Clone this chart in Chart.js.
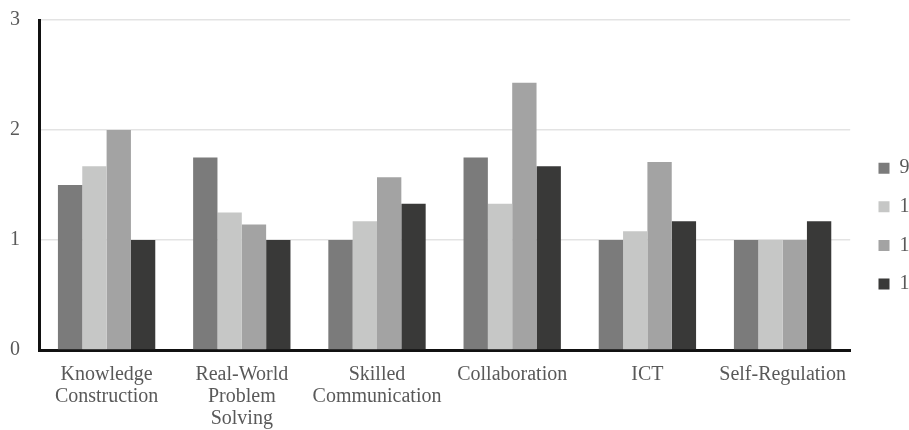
<!DOCTYPE html>
<html>
<head>
<meta charset="utf-8">
<script src="https://cdn.jsdelivr.net/npm/chart.js@4/dist/chart.umd.min.js"></script>
<style>
  html, body { margin: 0; padding: 0; background: #ffffff; }
  #wrap { width: 909px; height: 430px; position: relative; }
</style>
</head>
<body>
<div id="wrap"><canvas id="chart"></canvas></div>
<script>
// Category labels (multi-line where the label wraps)
const categories = [
  ['Knowledge', 'Construction'],
  ['Real-World', 'Problem', 'Solving'],
  ['Skilled', 'Communication'],
  'Collaboration',
  'ICT',
  'Self-Regulation'
];

// Series names shown in the legend
const seriesNames = ['9', '1', '1', '1'];

// Series values, one array per series
const series1 = [1.5, 1.75, 1.0, 1.75, 1.0, 1.0];
const series2 = [1.67, 1.25, 1.17, 1.33, 1.08, 1.0];
const series3 = [2.0, 1.14, 1.57, 2.43, 1.71, 1.0];
const series4 = [1.0, 1.0, 1.33, 1.67, 1.17, 1.17];

// Y axis ticks
const yTicks = [0, 1, 2, 3];

const colors = ['#7b7b7b', '#c6c7c6', '#a3a3a3', '#393938'];
const seriesValues = [series1, series2, series3, series4];

const FONT = '"Liberation Serif", "Times New Roman", serif';
const TEXT = '#595959';

const datasets = seriesValues.map((vals, i) => ({
  label: seriesNames[i],
  data: vals,
  backgroundColor: colors[i],
  borderWidth: 0,
  categoryPercentage: 0.72,
  barPercentage: 1.0
}));

new Chart(document.getElementById('chart'), {
  type: 'bar',
  data: { labels: categories, datasets },
  options: {
    responsive: true,
    maintainAspectRatio: false,
    animation: false,
    layout: { padding: { top: 0, left: -9, right: -10.5, bottom: -14 } },
    plugins: {
      tooltip: { enabled: false },
      legend: {
        position: 'right',
        align: 'center',
        title: { display: true, text: ' ', font: { size: 1 }, padding: { top: 7, bottom: 0 } },
        labels: {
          boxWidth: 11,
          boxHeight: 11,
          padding: 18.6,
          color: TEXT,
          font: { family: FONT, size: 20 }
        }
      }
    },
    scales: {
      x: {
        grid: { display: false, drawTicks: false },
        border: { display: true, color: '#111111', width: 3 },
        ticks: {
          color: TEXT,
          font: { family: FONT, size: 20, lineHeight: 1.1 },
          padding: 14,
          maxRotation: 0,
          autoSkip: false
        }
      },
      y: {
        min: 0,
        max: 3,
        afterBuildTicks: (scale) => { scale.ticks = yTicks.map(v => ({ value: v })); },
        // keep the plot top close to the canvas edge
        afterFit: (scale) => { scale.paddingTop = 20; },
        grid: { color: '#e3e3e3', lineWidth: 1.5, drawTicks: false },
        border: { display: true, color: '#111111', width: 3 },
        ticks: {
          color: TEXT,
          font: { family: FONT, size: 20 },
          padding: 19
        }
      },
      gap: {
        position: 'right',
        display: true,
        grid: { display: false, drawTicks: false },
        border: { display: false },
        ticks: { display: false },
        afterFit: (scale) => { scale.width = 9.7; }
      }
    }
  }
});
</script>
</body>
</html>
